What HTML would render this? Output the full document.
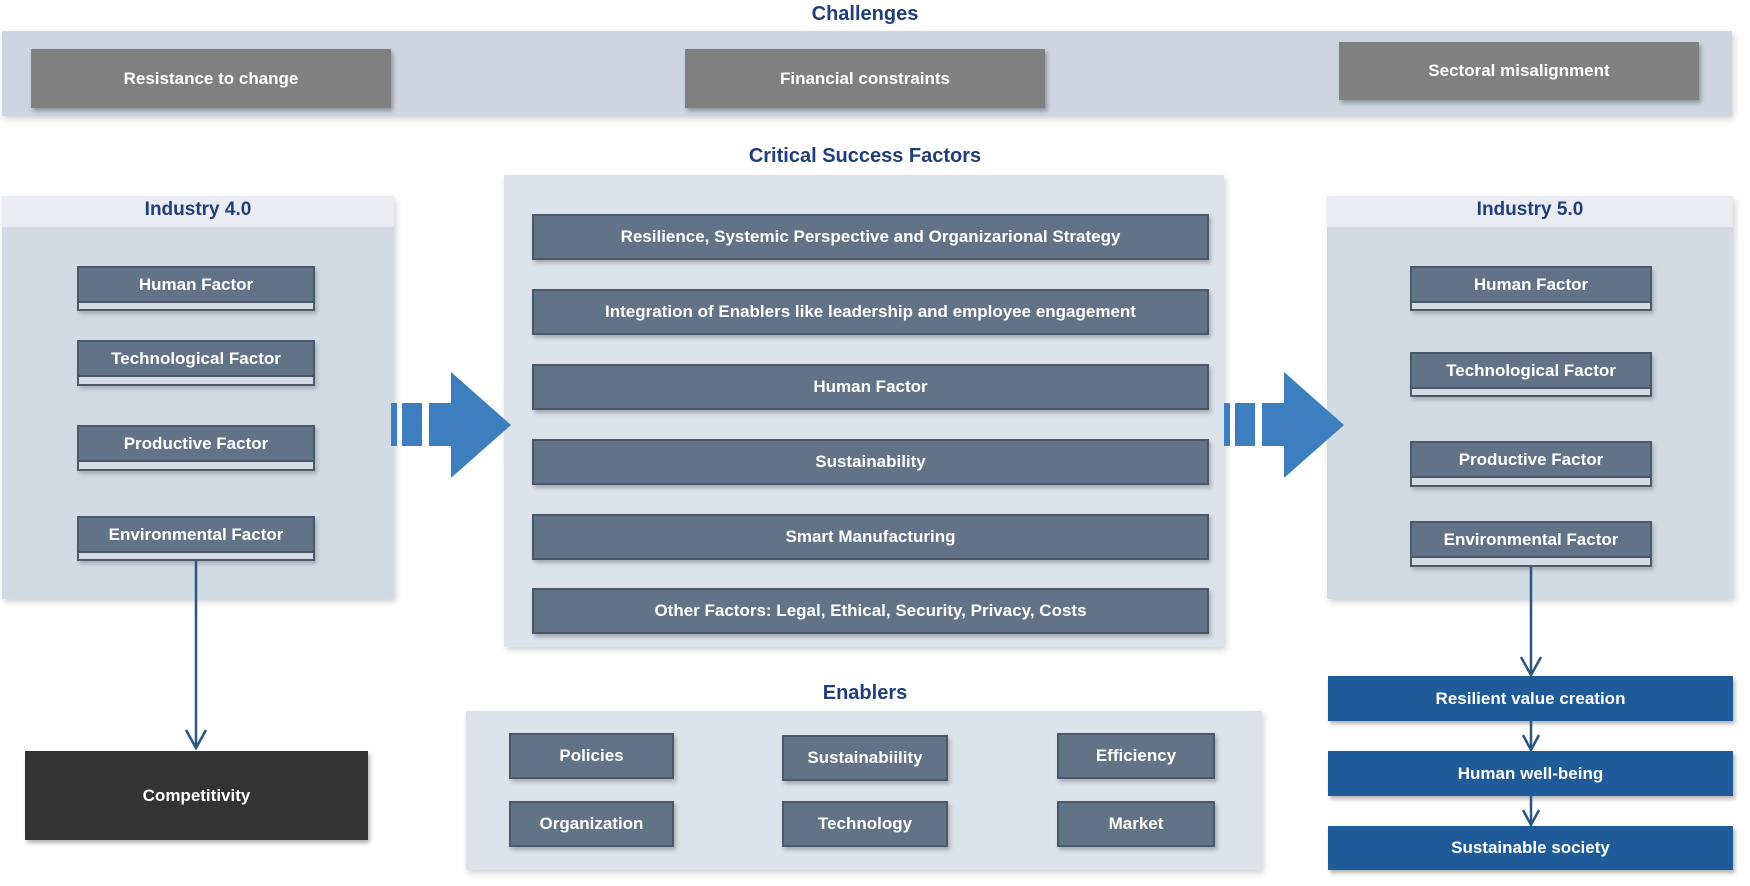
<!DOCTYPE html>
<html><head><style>
body{margin:0;width:1750px;height:886px;background:#fff;position:relative;overflow:hidden;font-family:"Liberation Sans",sans-serif}
div{position:absolute;box-sizing:border-box}
.t{color:#1f3e7a;font-weight:bold;font-size:20px;text-align:center}
.panel{background:#d2dae4;box-shadow:2px 3px 6px rgba(0,0,0,.18)}
.g{background:#808080;color:#fff;font-weight:bold;font-size:17px;display:flex;align-items:center;justify-content:center;box-shadow:2px 3px 4px rgba(0,0,0,.3)}
.s{background:#637387;border:2px solid #4a586a;color:#fff;font-weight:bold;font-size:17px;display:flex;align-items:center;justify-content:center;box-shadow:2px 3px 4px rgba(0,0,0,.25)}
.f{background:#d4dbe5;border:2px solid #4a586a;box-shadow:2px 3px 4px rgba(0,0,0,.2)}
.f span{position:absolute;left:0;right:0;top:0;height:33px;background:#637387;border-bottom:2px solid #4a586a;color:#fff;font-weight:bold;font-size:17px;display:flex;align-items:center;justify-content:center}
.b{background:#1f5a99;color:#fff;font-weight:bold;font-size:17px;display:flex;align-items:center;justify-content:center;box-shadow:2px 3px 4px rgba(0,0,0,.3)}
</style></head><body>
<div class="t" style="left:0;width:1730px;top:3px">Challenges</div>
<div class="panel" style="left:2px;top:31px;width:1730px;height:85px;background:#cdd5e0"></div>
<div class="g" style="left:31px;top:49px;width:360px;height:59px">Resistance to change</div>
<div class="g" style="left:685px;top:49px;width:360px;height:59px">Financial constraints</div>
<div class="g" style="left:1339px;top:42px;width:360px;height:58px">Sectoral misalignment</div>

<div class="t" style="left:0;width:1730px;top:145px">Critical Success Factors</div>
<div class="panel" style="left:504px;top:175px;width:720px;height:472px;background:#dde3eb"></div>
<div class="s" style="left:532px;top:214px;width:677px;height:46px">Resilience, Systemic Perspective and Organizarional Strategy</div>
<div class="s" style="left:532px;top:289px;width:677px;height:46px">Integration of Enablers like leadership and employee engagement</div>
<div class="s" style="left:532px;top:364px;width:677px;height:46px">Human Factor</div>
<div class="s" style="left:532px;top:439px;width:677px;height:46px">Sustainability</div>
<div class="s" style="left:532px;top:514px;width:677px;height:46px">Smart Manufacturing</div>
<div class="s" style="left:532px;top:588px;width:677px;height:46px">Other Factors: Legal, Ethical, Security, Privacy, Costs</div>

<div class="panel" style="left:2px;top:196px;width:392px;height:403px"></div>
<div style="left:2px;top:196px;width:392px;height:31px;background:#e9edf3"></div>
<div class="t" style="left:2px;width:392px;top:199px;font-size:19px">Industry 4.0</div>
<div class="f" style="left:77px;top:266px;width:238px;height:45px"><span>Human Factor</span></div>
<div class="f" style="left:77px;top:340px;width:238px;height:46px"><span>Technological Factor</span></div>
<div class="f" style="left:77px;top:425px;width:238px;height:46px"><span>Productive Factor</span></div>
<div class="f" style="left:77px;top:516px;width:238px;height:45px"><span>Environmental Factor</span></div>
<div style="left:25px;top:751px;width:343px;height:89px;background:#333;color:#fff;font-weight:bold;font-size:17px;display:flex;align-items:center;justify-content:center;box-shadow:2px 3px 4px rgba(0,0,0,.3)">Competitivity</div>

<div class="panel" style="left:1327px;top:196px;width:406px;height:403px"></div>
<div style="left:1327px;top:196px;width:406px;height:31px;background:#e9edf3"></div>
<div class="t" style="left:1327px;width:406px;top:199px;font-size:19px">Industry 5.0</div>
<div class="f" style="left:1410px;top:266px;width:242px;height:45px"><span>Human Factor</span></div>
<div class="f" style="left:1410px;top:352px;width:242px;height:45px"><span>Technological Factor</span></div>
<div class="f" style="left:1410px;top:441px;width:242px;height:46px"><span>Productive Factor</span></div>
<div class="f" style="left:1410px;top:521px;width:242px;height:46px"><span>Environmental Factor</span></div>
<div class="b" style="left:1328px;top:676px;width:405px;height:45px">Resilient value creation</div>
<div class="b" style="left:1328px;top:751px;width:405px;height:45px">Human well-being</div>
<div class="b" style="left:1328px;top:826px;width:405px;height:44px">Sustainable society</div>

<div class="t" style="left:0;width:1730px;top:682px">Enablers</div>
<div class="panel" style="left:466px;top:711px;width:796px;height:159px;background:#dde3eb"></div>
<div class="s" style="left:509px;top:733px;width:165px;height:46px">Policies</div>
<div class="s" style="left:782px;top:735px;width:166px;height:46px">Sustainabiility</div>
<div class="s" style="left:1057px;top:733px;width:158px;height:46px">Efficiency</div>
<div class="s" style="left:509px;top:801px;width:165px;height:46px">Organization</div>
<div class="s" style="left:782px;top:801px;width:166px;height:46px">Technology</div>
<div class="s" style="left:1057px;top:801px;width:158px;height:46px">Market</div>

<svg style="position:absolute;left:0;top:0" width="1750" height="886">
<g fill="#3d7ebf">
<rect x="391" y="403" width="6" height="43"/><rect x="402" y="403" width="20" height="43"/>
<polygon points="429,403 451,403 451,372 511,425 451,478 451,446 429,446"/>
<rect x="1224" y="403" width="6" height="43"/><rect x="1235" y="403" width="20" height="43"/>
<polygon points="1262,403 1284,403 1284,372 1344,425 1284,478 1284,446 1262,446"/>
</g>
<g stroke="#2a5680" stroke-width="2.5" fill="none">
<line x1="196" y1="561" x2="196" y2="746"/>
<polyline points="186,730 196,748 206,730"/>
<line x1="1531" y1="567" x2="1531" y2="673"/>
<polyline points="1521,657 1531,675 1541,657"/>
<line x1="1531" y1="721" x2="1531" y2="749"/>
<polyline points="1523,735 1531,750 1539,735"/>
<line x1="1531" y1="796" x2="1531" y2="824"/>
<polyline points="1523,810 1531,825 1539,810"/>
</g>
</svg>
</body></html>
